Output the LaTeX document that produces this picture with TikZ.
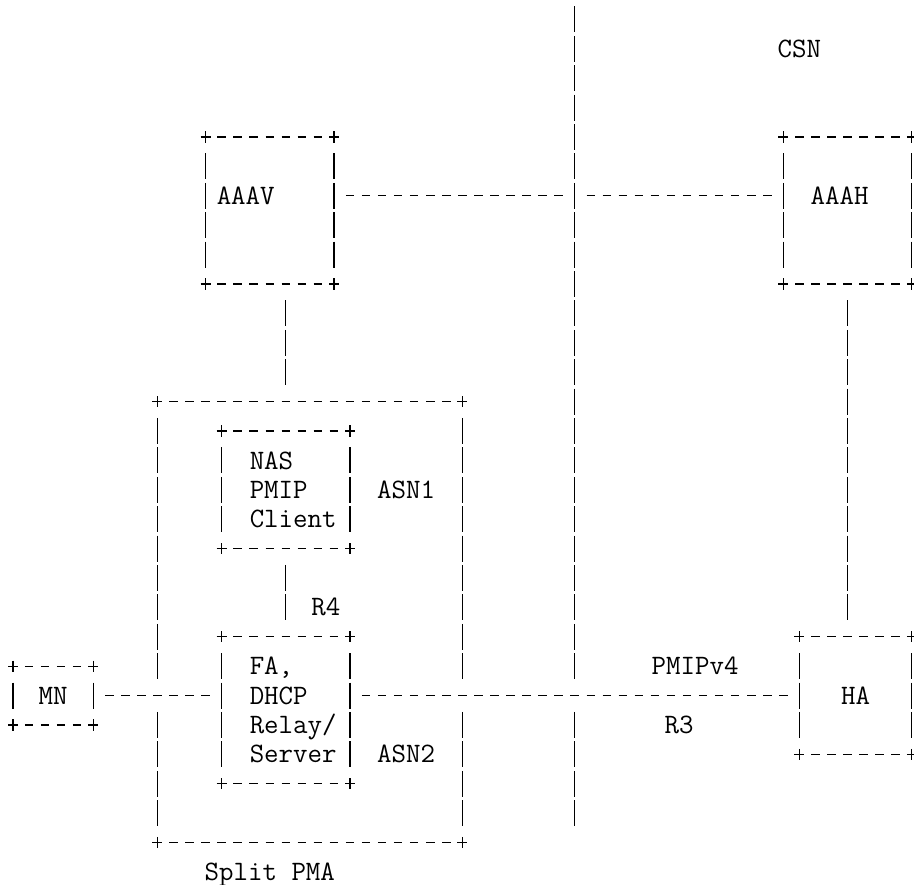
\documentclass[tikz,border=0pt]{standalone}
\usetikzlibrary{calc, fit}

\begin{document}
\begin{tikzpicture}[
  x=0.321cm, y=-0.588cm,
  box/.style        = {inner sep=0pt, outer sep=0pt, draw=none},
  txt/.style        = {font=\fontsize{16}{16.67}\selectfont\ttfamily, inner sep=0pt,
                       text height=9.78pt, text depth=0pt},
  multi/.style      = {font=\fontsize{16}{16.67}\selectfont\ttfamily, inner sep=0pt,
                       align=left, anchor=west},
  hbar/.style       = {line width=0.62pt, dash pattern=on 0.170cm off 0.151cm,
                       dash phase=0.2456cm},
  vbar/.style       = {line width=0.62pt, dash pattern=on 0.520cm off 0.068cm,
                       dash phase=0.554cm},
  pluscorner/.style = {line width=0.62pt},
]
\useasboundingbox (-0.81,-0.66) rectangle (56.14,29.44);

% ---- CSN boundary -------------------------------------------------------------
\coordinate (ctop) at (35,-0.5);
\coordinate (cbot) at (35,27.5);
\node[txt] (csn) at (49,1) {CSN};

% ---- AAA servers --------------------------------------------------------------
\node[box, fit={(12,4) (20,9)}] (aaav) {};
\node[box, fit={(48,4) (56,9)}] (aaah) {};
\node[txt] (aaavl) at (14.5,6) {AAAV};
\node[txt] (aaahl) at (51.5,6) {AAAH};

% ---- split PMA (ASN) ----------------------------------------------------------
\node[box, fit={(9,13) (28,28)}] (asn) {};
\node[box, fit={(13,14) (21,18)}] (nas) {};
\node[box, fit={(13,21) (21,26)}] (fa) {};
\node[multi] (nasl) at (14.73,16) {NAS\\PMIP\\Client};
\node[multi] (fal) at (14.73,23.5) {FA,\\DHCP\\Relay/\\Server};
\node[txt] (asn1) at (24.5,16) {ASN1};
\node[txt] (asn2) at (24.5,25) {ASN2};
\node[txt] (r4) at (19.5,20) {R4};
\node[txt] (split) at (16,29) {Split PMA};

% ---- mobile node and home agent -----------------------------------------------
\node[box, fit={(0,22) (5,24)}] (mn) {};
\node[box, fit={(49,21) (56,25)}] (ha) {};
\node[txt] (mnl) at (2.5,23) {MN};
\node[txt] (hal) at (52.5,23) {HA};
\node[txt] (pmip) at (42.5,22) {PMIPv4};
\node[txt] (r3) at (41.5,24) {R3};

% box outlines, drawn the ascii way
\foreach \b in {aaav, aaah, asn, nas, fa, mn, ha} {
  \draw[hbar] ($(\b.north west)+(0.5,0)$) -- ($(\b.north east)+(-0.5,0)$);
  \draw[hbar] ($(\b.south west)+(0.5,0)$) -- ($(\b.south east)+(-0.5,0)$);
  \foreach \c in {north west, north east, south west, south east}
    \draw[pluscorner] (\b.\c) +(-0.31,0) -- +(0.31,0) +(0,-0.19) -- +(0,0.19);
}
\foreach \b in {aaav, aaah, nas, fa, mn, ha} {
  \draw[vbar] ($(\b.north west)+(0,0.5)$) -- ($(\b.south west)+(0,-0.5)$);
  \draw[vbar] ($(\b.north east)+(0,0.5)$) -- ($(\b.south east)+(0,-0.5)$);
}
% ASN sides are cut by the MN--FA--HA line
\draw[vbar] ($(asn.north west)+(0,0.5)$) -- ($(mn.east -| asn.west)+(0,-0.5)$);
\draw[vbar] ($(mn.east -| asn.west)+(0,0.5)$) -- ($(asn.south west)+(0,-0.5)$);
\draw[vbar] ($(asn.north east)+(0,0.5)$) -- ($(mn.east -| asn.east)+(0,-0.5)$);
\draw[vbar] ($(mn.east -| asn.east)+(0,0.5)$) -- ($(asn.south east)+(0,-0.5)$);

% ---- connectors ---------------------------------------------------------------
% AAAV -- AAAH, across the boundary
\draw[hbar] ($(aaav.east)+(0.5,-0.5)$) -- ($(aaav.east -| ctop)+(-0.5,-0.5)$);
\draw[hbar] ($(aaav.east -| ctop)+(0.5,-0.5)$) -- ($(aaah.west)+(-0.5,-0.5)$);
% AAAV -- ASN, NAS -- FA (R4)
\draw[vbar] ($(aaav.south -| nas)+(0,0.5)$) -- ($(asn.north -| nas)+(0,-0.5)$);
\draw[vbar] ($(nas.south)+(0,0.5)$) -- ($(fa.north)+(0,-0.5)$);
% AAAH -- HA
\draw[vbar] ($(aaah.south)+(0,0.5)$) -- ($(ha.north -| aaah)+(0,-0.5)$);
% MN -- FA, FA -- HA (R3)
\draw[hbar] ($(mn.east)+(0.5,0)$) -- ($(mn.east -| fa.west)+(-0.5,0)$);
\draw[hbar] ($(ha.west -| fa.east)+(0.5,0)$) -- ($(ha.west)+(-0.5,0)$);
% boundary line, broken where R3 crosses it
\draw[vbar] (ctop) -- ($(ha.west -| ctop)+(0,-0.5)$);
\draw[vbar] ($(ha.west -| ctop)+(0,0.5)$) -- (cbot);

\end{tikzpicture}
\end{document}
